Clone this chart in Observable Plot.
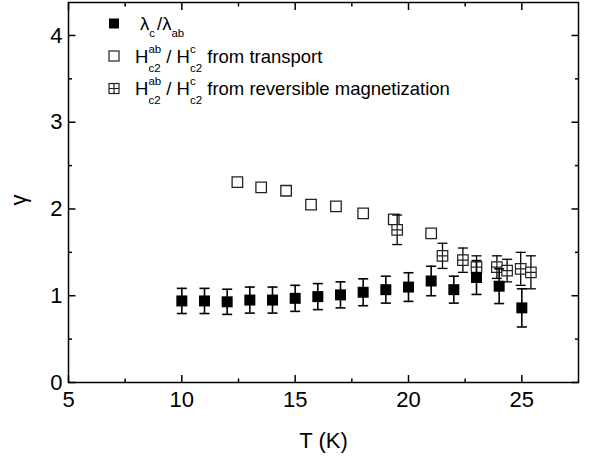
<!DOCTYPE html>
<html>
<head>
<meta charset="utf-8">
<script src="https://cdn.jsdelivr.net/npm/d3@7"></script>
<script src="https://cdn.jsdelivr.net/npm/@observablehq/plot@0.6"></script>
<style>
  html, body { margin: 0; padding: 0; background: #fff; }
  svg text { white-space: pre; }
</style>
</head>
<body>
<div id="chart"></div>
<script>
// ---- data ----
const lambdaT = [10, 11, 12, 13, 14, 15, 16, 17, 18, 19, 20, 21, 22, 23, 24, 25];
const lambdaGamma = [0.94, 0.94, 0.93, 0.95, 0.95, 0.97, 0.99, 1.01, 1.04, 1.07, 1.10, 1.17, 1.07, 1.21, 1.11, 0.86];
const lambdaErr = [0.145, 0.145, 0.145, 0.15, 0.15, 0.15, 0.15, 0.15, 0.155, 0.155, 0.165, 0.17, 0.155, 0.195, 0.2, 0.22];

const transportT = [12.45, 13.5, 14.6, 15.7, 16.8, 18.0, 19.35, 21.0];
const transportGamma = [2.31, 2.25, 2.21, 2.05, 2.03, 1.95, 1.88, 1.72];

const magT = [19.5, 21.5, 22.4, 23.0, 23.9, 24.35, 24.95, 25.4];
const magGamma = [1.76, 1.46, 1.41, 1.33, 1.33, 1.29, 1.31, 1.27];
const magErr = [0.17, 0.145, 0.14, 0.13, 0.13, 0.13, 0.19, 0.19];

const xMajor = [5, 10, 15, 20, 25];
const xMinor = [7.5, 12.5, 17.5, 22.5];
const yMajor = [0, 1, 2, 3, 4];
const yMinor = [0.5, 1.5, 2.5, 3.5];

const xLabel = "T (K)";
const yLabel = "γ";

const lambdaData = lambdaT.map((T, i) => ({T, g: lambdaGamma[i], e: lambdaErr[i]}));
const transportData = transportT.map((T, i) => ({T, g: transportGamma[i]}));
const magData = magT.map((T, i) => ({T, g: magGamma[i], e: magErr[i]}));

// ---- symbols ----
const tickSym = (dx, dy) => ({draw(ctx) { ctx.moveTo(0, 0); ctx.lineTo(dx, dy); }});
const capSym = w => ({draw(ctx) { ctx.moveTo(-w / 2, 0); ctx.lineTo(w / 2, 0); }});
const squareSym = s => ({draw(ctx) { ctx.rect(-s / 2, -s / 2, s, s); }});
const boxplusSym = s => ({draw(ctx) {
  const h = s / 2;
  ctx.rect(-h, -h, s, s);
  ctx.moveTo(-h, 0); ctx.lineTo(h, 0);
  ctx.moveTo(0, -h); ctx.lineTo(0, h);
}});

const FONT = "'Liberation Sans', Arial, Helvetica, sans-serif";

const errMarks = (data, sw) => [
  Plot.ruleX(data, {x: "T", y1: d => d.g - d.e, y2: d => d.g + d.e, stroke: "black", strokeWidth: sw}),
  Plot.dot(data, {x: "T", y: d => d.g + d.e, symbol: capSym(10), fill: "none", stroke: "black", strokeWidth: sw}),
  Plot.dot(data, {x: "T", y: d => d.g - d.e, symbol: capSym(10), fill: "none", stroke: "black", strokeWidth: sw})
];

const svg = Plot.plot({
  width: 598,
  height: 462,
  marginLeft: 68,
  marginRight: 20,
  marginTop: 2,
  marginBottom: 80,
  style: {fontFamily: FONT, fontSize: "22px", color: "black", background: "white", overflow: "visible"},
  x: {domain: [5, 27.5]},
  y: {domain: [0, 4.38]},
  marks: [
    Plot.axisX({ticks: xMajor, tickSize: 0, tickPadding: 9, tickFormat: d => String(d), fontSize: 22,
      label: xLabel, labelAnchor: "center", labelArrow: "none", labelOffset: 65}),
    Plot.axisY({ticks: yMajor, tickSize: 0, tickPadding: 6, tickFormat: d => String(d), fontSize: 22, label: null}),
    // inward ticks on all four sides
    Plot.dot(xMajor, {x: d => d, frameAnchor: "bottom", symbol: tickSym(0, -7.5), fill: "none", stroke: "black", strokeWidth: 1.5}),
    Plot.dot(xMajor, {x: d => d, frameAnchor: "top", symbol: tickSym(0, 7.5), fill: "none", stroke: "black", strokeWidth: 1.5}),
    Plot.dot(xMinor, {x: d => d, frameAnchor: "bottom", symbol: tickSym(0, -4), fill: "none", stroke: "black", strokeWidth: 1.5}),
    Plot.dot(xMinor, {x: d => d, frameAnchor: "top", symbol: tickSym(0, 4), fill: "none", stroke: "black", strokeWidth: 1.5}),
    Plot.dot(yMajor, {y: d => d, frameAnchor: "left", symbol: tickSym(7, 0), fill: "none", stroke: "black", strokeWidth: 1.5}),
    Plot.dot(yMajor, {y: d => d, frameAnchor: "right", symbol: tickSym(-7, 0), fill: "none", stroke: "black", strokeWidth: 1.5}),
    Plot.dot(yMinor, {y: d => d, frameAnchor: "left", symbol: tickSym(3.5, 0), fill: "none", stroke: "black", strokeWidth: 1.5}),
    Plot.dot(yMinor, {y: d => d, frameAnchor: "right", symbol: tickSym(-3.5, 0), fill: "none", stroke: "black", strokeWidth: 1.5}),
    Plot.frame({stroke: "black", strokeWidth: 1.5}),
    // transport (open squares)
    Plot.dot(transportData, {x: "T", y: "g", symbol: squareSym(10.5), fill: "white", stroke: "#222", strokeWidth: 1.3}),
    // reversible magnetization (boxplus) with error bars
    ...errMarks(magData, 1.3),
    Plot.dot(magData, {x: "T", y: "g", symbol: boxplusSym(10.5), fill: "white", stroke: "#222", strokeWidth: 1.2}),
    // lambda_c / lambda_ab (filled squares) with error bars
    ...errMarks(lambdaData, 1.6),
    Plot.dot(lambdaData, {x: "T", y: "g", symbol: squareSym(11), fill: "black", stroke: "none"})
  ]
});

document.getElementById("chart").appendChild(svg);

// rotated y-axis label
d3.select(svg).append("text")
  .attr("transform", "translate(26,200) rotate(-90)")
  .attr("text-anchor", "middle")
  .attr("font-family", FONT).attr("font-size", 22).attr("fill", "black")
  .text(yLabel);

// ---- legend (inside plot, upper-left) ----
const legendSyms = ["filled", "open", "boxplus"];
const legendParts = [
  [{t: "λ"}, {sub: "c", subDy: 7}, {t: "/", dx: 2}, {t: "λ"}, {sub: "ab", subDy: 7}],
  [{t: "H"}, {sup: "ab", sub: "c2"}, {t: " / H"}, {sup: "c", sub: "c2"}, {t: " from transport"}],
  [{t: "H"}, {sup: "ab", sub: "c2"}, {t: " / H"}, {sup: "c", sub: "c2"}, {t: " from reversible magnetization"}]
];
const legendBaselines = [30, 62.5, 95];
const legendTextX = [140, 135, 135];

const lg = d3.select(svg).append("g")
  .attr("font-family", FONT).attr("fill", "black").attr("text-anchor", "start");
function rich(g, x, y, parts) {
  let cx = x;
  for (const p of parts) {
    if (p.t !== undefined) {
      cx += p.dx || 0;
      const t = g.append("text").attr("x", cx).attr("y", y).attr("font-size", 18.5).text(p.t);
      cx += t.node().getComputedTextLength();
    } else {
      let w = 0;
      if (p.sup) {
        const t = g.append("text").attr("x", cx).attr("y", y - 10).attr("font-size", 11.5).text(p.sup);
        w = Math.max(w, t.node().getComputedTextLength());
      }
      if (p.sub) {
        const t = g.append("text").attr("x", cx).attr("y", y + (p.subDy || 9)).attr("font-size", 11.5).text(p.sub);
        w = Math.max(w, t.node().getComputedTextLength());
      }
      cx += w;
    }
  }
}
legendSyms.forEach((s, i) => {
  const cy = legendBaselines[i] - 6.5, cx = 114, h = 5;
  if (s === "filled") {
    lg.append("rect").attr("x", cx - h).attr("y", cy - h).attr("width", 2 * h).attr("height", 2 * h).attr("fill", "black");
  } else {
    lg.append("rect").attr("x", cx - h).attr("y", cy - h).attr("width", 2 * h).attr("height", 2 * h)
      .attr("fill", "white").attr("stroke", "#222").attr("stroke-width", 1.2);
    if (s === "boxplus") {
      lg.append("path").attr("d", `M${cx - h},${cy}H${cx + h}M${cx},${cy - h}V${cy + h}`)
        .attr("stroke", "#222").attr("stroke-width", 1.2);
    }
  }
  rich(lg, legendTextX[i], legendBaselines[i], legendParts[i]);
});
</script>
</body>
</html>
